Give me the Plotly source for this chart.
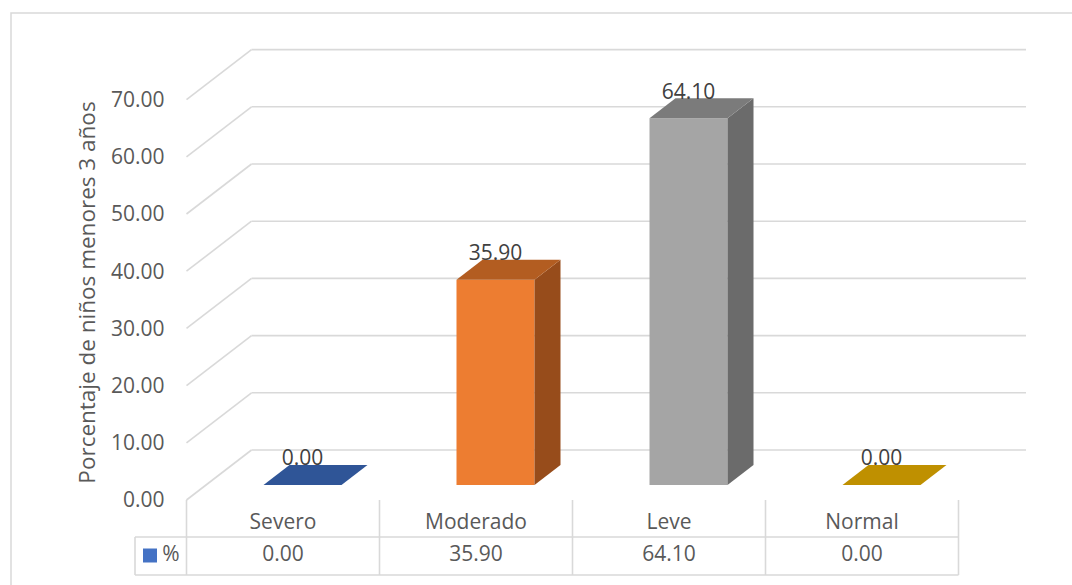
import plotly.graph_objects as go

# ---------------- data ----------------
categories = ["Severo", "Moderado", "Leve", "Normal"]
values = [0.00, 35.90, 64.10, 0.00]
value_labels = ["0.00", "35.90", "64.10", "0.00"]
tick_values = [0, 10, 20, 30, 40, 50, 60, 70]
tick_labels = ["0.00", "10.00", "20.00", "30.00", "40.00", "50.00", "60.00", "70.00"]
series_name = "%"
y_title = "Porcentaje de niños menores 3 años"

# ---------------- style ----------------
front_colors = ["#4472C4", "#ED7D31", "#A5A5A5", "#FFC000"]
top_colors = ["#2F5597", "#B35D21", "#7B7B7B", "#BF9000"]
side_colors = ["#2B4C85", "#974C1B", "#6B6B6B", "#A07800"]
grid_color = "#D9D9D9"
text_color = "#595959"
label_color = "#404040"
FONT = "Open Sans"
FS = 21

W, H = 1072, 585
X0_PX = 186.5      # pixel of the first category boundary (front plane)
CAT_PX = 193.0     # pixels per category
Y0_PX = 500.0      # pixel of value 0 (front plane)
UNIT_PX = 5.72     # pixels per value unit

x_range = [(0 - X0_PX) / CAT_PX, (W - X0_PX) / CAT_PX]
y_range = [(Y0_PX - H) / UNIT_PX, Y0_PX / UNIT_PX]


def dx(px):
    return px / CAT_PX


def dy(px):
    return px / UNIT_PX


WALL_DX, WALL_DY = dx(65), dy(50)      # depth of side wall / floor
BAR_DX0, BAR_DY0 = dx(19.5), dy(15)    # bar front plane offset
BAR_DDX, BAR_DDY = dx(26), dy(20)      # bar depth
BAR_W = dx(78)
GRID_END = dx(1026 - X0_PX)
LEG_LEFT = dx(135 - X0_PX)

fig = go.Figure()
shapes = []

# ---- gridlines on side wall + back wall (behind everything) ----
for t in tick_values:
    shapes.append(dict(type="line", xref="x", yref="y", x0=0, y0=t, x1=WALL_DX, y1=t + WALL_DY,
                       line=dict(color=grid_color, width=1.6), layer="below"))
    shapes.append(dict(type="line", xref="x", yref="y", x0=WALL_DX, y0=t + WALL_DY,
                       x1=GRID_END, y1=t + WALL_DY,
                       line=dict(color=grid_color, width=1.6), layer="below"))

# ---- bar front faces ----
centers = [i + 0.5 + BAR_DX0 for i in range(len(categories))]
fig.add_trace(go.Bar(x=centers, y=values, base=BAR_DY0, width=BAR_W,
                     marker=dict(color=front_colors, line=dict(width=0)),
                     name=series_name, showlegend=False, hoverinfo="skip"))

# ---- side and top faces ----
for i, v in enumerate(values):
    xl = centers[i] - BAR_W / 2
    xr = centers[i] + BAR_W / 2
    b = BAR_DY0
    if v > 0:
        fig.add_trace(go.Scatter(
            x=[xr, xr + BAR_DDX, xr + BAR_DDX, xr, xr],
            y=[b, b + BAR_DDY, b + v + BAR_DDY, b + v, b],
            fill="toself", fillcolor=side_colors[i], mode="lines", line=dict(width=0),
            hoverinfo="skip", showlegend=False))
    fig.add_trace(go.Scatter(
        x=[xl, xr, xr + BAR_DDX, xl + BAR_DDX, xl],
        y=[b + v, b + v, b + v + BAR_DDY, b + v + BAR_DDY, b + v],
        fill="toself", fillcolor=top_colors[i], mode="lines", line=dict(width=0),
        hoverinfo="skip", showlegend=False))

# ---- data labels ----
fig.add_trace(go.Scatter(
    x=centers, y=[v + BAR_DY0 + dy(25) for v in values], mode="text",
    text=value_labels, textposition="middle center",
    textfont=dict(family=FONT, size=FS, color=label_color),
    hoverinfo="skip", showlegend=False))

# ---- data table ----
n = len(categories)
row1, row2 = -dy(37), -dy(75)
tx, ty = [], []
for k in range(n + 1):
    tx += [k, k, None]
    ty += [0, row2, None]
tx += [LEG_LEFT, LEG_LEFT, None, LEG_LEFT, n, None, LEG_LEFT, n, None]
ty += [row1, row2, None, row1, row1, None, row2, row2, None]
fig.add_trace(go.Scatter(x=tx, y=ty, mode="lines", line=dict(color=grid_color, width=1.6),
                         hoverinfo="skip", showlegend=False))

fig.add_trace(go.Scatter(
    x=[k + 0.5 for k in range(n)], y=[-dy(24)] * n, mode="text", text=categories,
    textposition="middle center", textfont=dict(family=FONT, size=FS, color=text_color),
    hoverinfo="skip", showlegend=False))
fig.add_trace(go.Scatter(
    x=[k + 0.5 for k in range(n)], y=[-dy(56)] * n, mode="text", text=value_labels,
    textposition="middle center", textfont=dict(family=FONT, size=FS, color=text_color),
    hoverinfo="skip", showlegend=False))

# legend key cell
fig.add_trace(go.Scatter(
    x=[dx(150 - X0_PX)], y=[-dy(55.5)], mode="markers",
    marker=dict(symbol="square", size=14, color=front_colors[0], line=dict(width=0)),
    hoverinfo="skip", showlegend=False))
fig.add_trace(go.Scatter(
    x=[dx(171 - X0_PX)], y=[-dy(56)], mode="text", text=[series_name],
    textposition="middle center", textfont=dict(family=FONT, size=FS, color=text_color),
    hoverinfo="skip", showlegend=False))

# chart border
shapes.append(dict(type="rect", xref="paper", yref="paper",
                   x0=11 / W, x1=1.02, y0=-0.05, y1=1 - 13 / H,
                   line=dict(color=grid_color, width=1.5), fillcolor="rgba(0,0,0,0)",
                   layer="below"))

# ---- layout ----
fig.update_layout(
    width=W, height=H, autosize=False,
    margin=dict(l=0, r=0, t=0, b=0),
    paper_bgcolor="white", plot_bgcolor="white",
    showlegend=False,
    xaxis=dict(range=x_range, visible=False, fixedrange=True),
    yaxis=dict(range=y_range, anchor="free", position=X0_PX / W,
               tickvals=tick_values, ticktext=tick_labels,
               tickfont=dict(family=FONT, size=FS, color=text_color),
               ticks="", ticklabelstandoff=22,
               showgrid=False, zeroline=False, showline=False, fixedrange=True,
               title=dict(text=y_title, font=dict(family=FONT, size=22.5, color=text_color),
                          standoff=8)),
    shapes=shapes,
)

fig.write_html("out.html")
